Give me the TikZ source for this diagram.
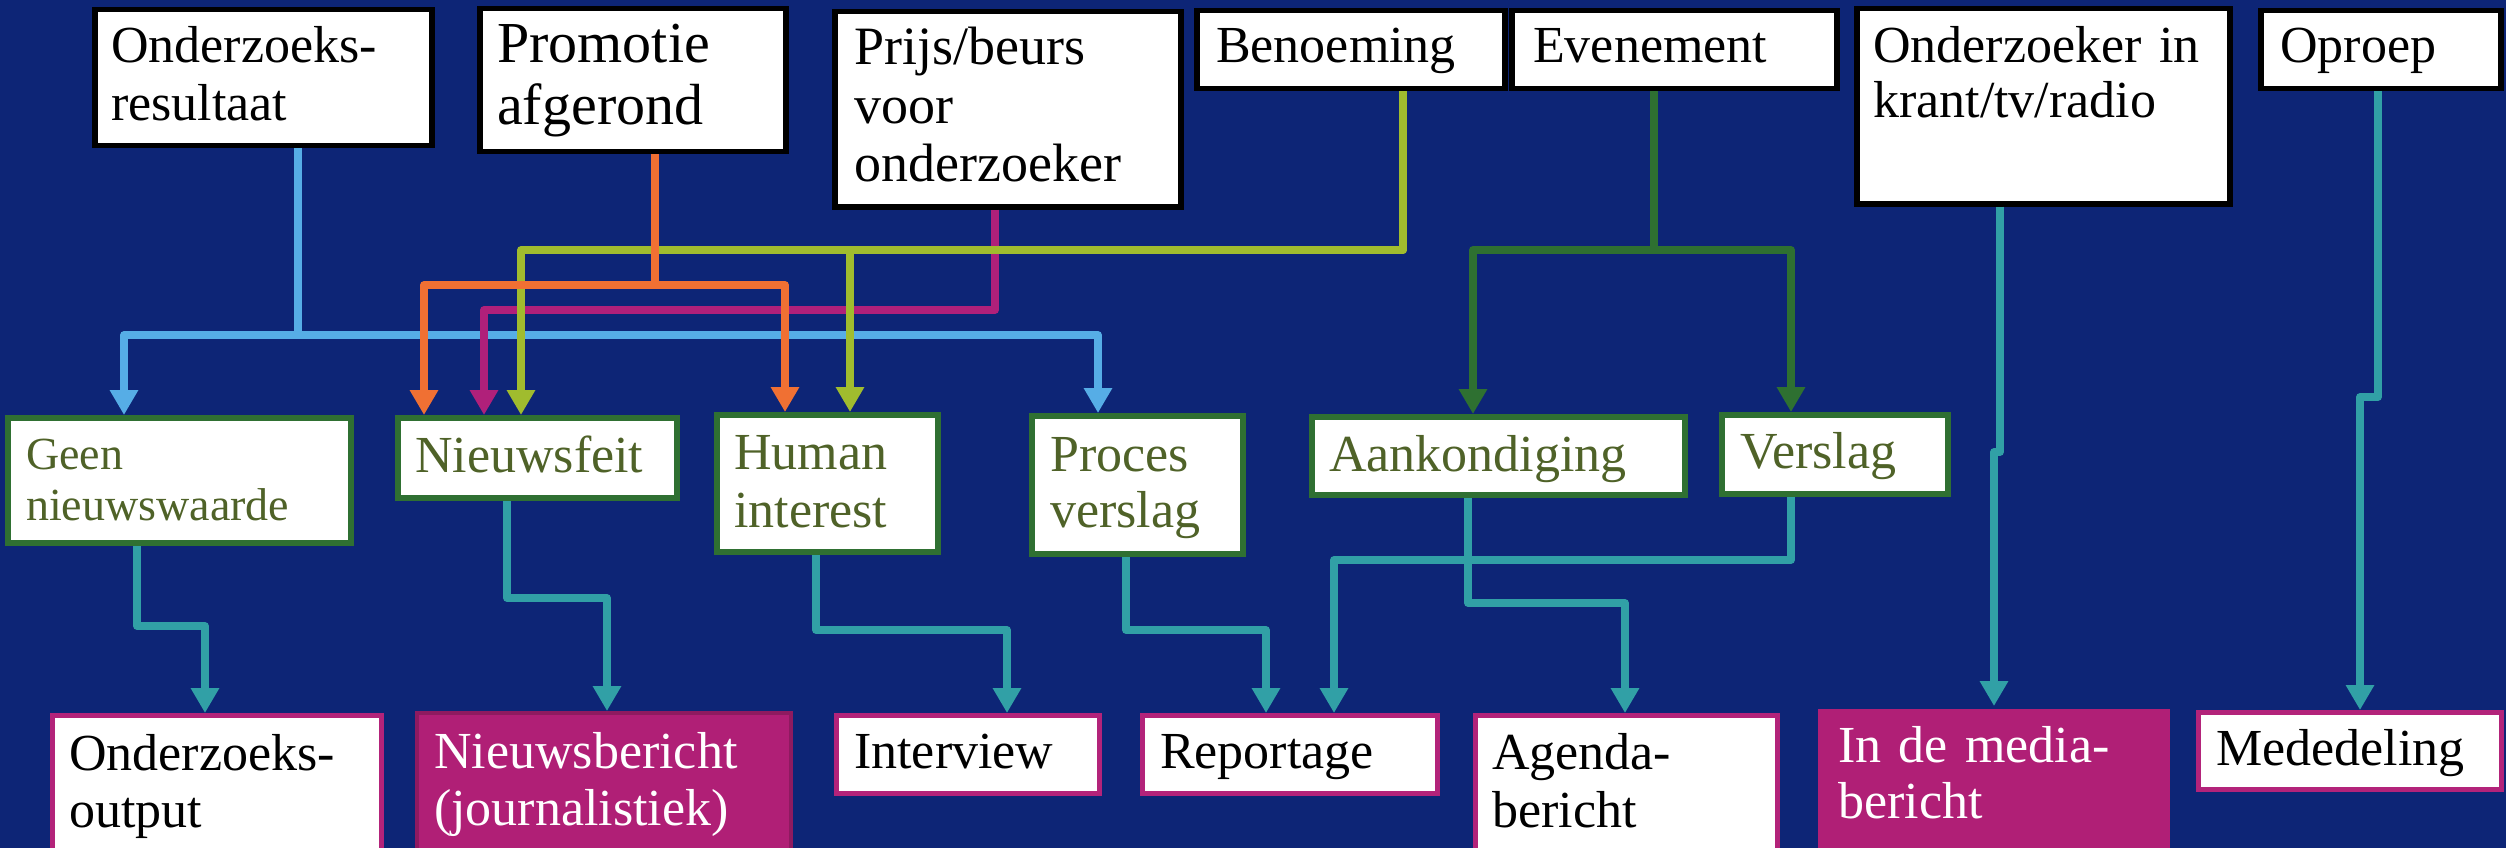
\documentclass[tikz,border=0pt]{standalone}
\usepackage{fontspec}
\setmainfont{Liberation Serif}
\usetikzlibrary{arrows.meta}
\definecolor{bg}{HTML}{0D2576}
\definecolor{mgreen}{HTML}{2F7032}
\definecolor{olive}{HTML}{4F6228}
\definecolor{bmag}{HTML}{B3237A}
\definecolor{fmag}{HTML}{B01F76}
\definecolor{fmagdark}{HTML}{8E1A60}
\definecolor{cblue}{HTML}{56ADE6}
\definecolor{corange}{HTML}{F07033}
\definecolor{clime}{HTML}{A0BC2E}
\definecolor{cmag}{HTML}{B0207A}
\definecolor{cdgreen}{HTML}{2E7031}
\definecolor{cteal}{HTML}{31A0A6}
\begin{document}
\begin{tikzpicture}[x=1pt,y=-1pt,
  box/.style={anchor=north west, inner sep=0pt, fill=white, line width=5pt},
  topbox/.style={box, draw=black, line width=5.5pt},
  midbox/.style={box, draw=mgreen, line width=6pt},
  botbox/.style={box, draw=bmag},
  fillbox/.style={box, fill=fmag, draw=fmagdark, line width=4pt},
  txt/.style={anchor=base west, inner sep=0pt, text width=500pt, align=left, font=\fontsize{52}{58}\selectfont},
  conn/.style={line width=7.5pt, line join=round},
  arr/.style={conn, -{Triangle[width=27pt,length=25pt]}}
]
\fill[bg] (0,0) rectangle (2506,848);
\path[use as bounding box] (0,0) rectangle (2506,848);
\clip (0,0) rectangle (2506,848);

% top row
\node[topbox, minimum width=337pt, minimum height=136pt] (t1) at (92,7) {};
\node[txt] (t1t) at (111,63) {Onderzoeks-\\resultaat};
\node[topbox, minimum width=306pt, minimum height=143pt] (t2) at (477,6) {};
\node[txt, font=\fontsize{58}{62}\selectfont] (t2t) at (497,63) {Promotie\\afgerond};
\node[topbox, minimum width=346pt, minimum height=195pt] (t3) at (832,9) {};
\node[txt, font=\fontsize{54}{58.5}\selectfont] (t3t) at (854,65) {Prijs/beurs\\voor\\onderzoeker};
\node[topbox, minimum width=308pt, minimum height=78pt] (t4) at (1194,8) {};
\node[txt] (t4t) at (1216,63) {Benoeming};
\node[topbox, minimum width=325pt, minimum height=78pt] (t5) at (1509,8) {};
\node[txt] (t5t) at (1533,63) {Evenement};
\node[topbox, minimum width=373pt, minimum height=195pt] (t6) at (1854,6) {};
\node[txt, font=\fontsize{52}{55}\selectfont] (t6t) at (1873,63) {Onderzoeker in\\krant/tv/radio};
\node[topbox, minimum width=240pt, minimum height=78pt] (t7) at (2258,8) {};
\node[txt] (t7t) at (2280,63) {Oproep};

% middle row
\node[midbox, minimum width=343pt, minimum height=125pt] (m1) at (5,415) {};
\node[txt, text=olive, font=\fontsize{46}{51}\selectfont] (m1t) at (26,469) {Geen\\nieuwswaarde};
\node[midbox, minimum width=279pt, minimum height=80pt] (m2) at (395,415) {};
\node[txt, text=olive] (m2t) at (415,472) {Nieuwsfeit};
\node[midbox, minimum width=221pt, minimum height=137pt] (m3) at (714,412) {};
\node[txt, text=olive] (m3t) at (734,469) {Human\\interest};
\node[midbox, minimum width=211pt, minimum height=138pt] (m4) at (1029,413) {};
\node[txt, text=olive, font=\fontsize{52}{56}\selectfont] (m4t) at (1050,471) {Proces\\verslag};
\node[midbox, minimum width=373pt, minimum height=78pt] (m5) at (1309,414) {};
\node[txt, text=olive] (m5t) at (1329,471) {Aankondiging};
\node[midbox, minimum width=226pt, minimum height=79pt] (m6) at (1719,412) {};
\node[txt, text=olive] (m6t) at (1740,468) {Verslag};

% bottom row
\node[botbox, minimum width=329pt, minimum height=157pt] (b1) at (50,713) {};
\node[txt, font=\fontsize{52}{57}\selectfont] (b1t) at (69,770) {Onderzoeks-\\output};
\node[fillbox, minimum width=374pt, minimum height=159pt] (b2) at (415,711) {};
\node[txt, text=white, font=\fontsize{52}{57}\selectfont] (b2t) at (434,768) {Nieuwsbericht\\(journalistiek)};
\node[botbox, minimum width=263pt, minimum height=78pt] (b3) at (834,713) {};
\node[txt] (b3t) at (854,768) {Interview};
\node[botbox, minimum width=295pt, minimum height=78pt] (b4) at (1140,713) {};
\node[txt] (b4t) at (1160,768) {Reportage};
\node[botbox, minimum width=302pt, minimum height=157pt] (b5) at (1473,713) {};
\node[txt, font=\fontsize{52}{58}\selectfont] (b5t) at (1492,769) {Agenda-\\bericht};
\node[box, fill=fmag, minimum width=352pt, minimum height=164pt] (b6) at (1815,706) {};
\node[txt, text=white, font=\fontsize{52}{56}\selectfont] (b6t) at (1838,762) {In de media-\\bericht};
\node[botbox, minimum width=303pt, minimum height=77pt] (b7) at (2196,710) {};
\node[txt] (b7t) at (2216,765) {Mededeling};

% connectors top -> middle
\draw[arr,cblue] ([xshift=206pt]t1.south west) -- (298,335) -| ([xshift=119pt]m1.north west);
\draw[arr,cblue] ([xshift=206pt]t1.south west) -- (298,335) -| ([xshift=69pt]m4.north west);
\draw[arr,cmag] ([xshift=163pt]t3.south west) -- (995,310) -| ([xshift=89pt]m2.north west);
\draw[arr,clime] ([xshift=209pt]t4.south west) -- (1403,250) -| ([xshift=126pt]m2.north west);
\draw[arr,clime] ([xshift=209pt]t4.south west) -- (1403,250) -| ([xshift=136pt]m3.north west);
\draw[arr,corange] ([xshift=178pt]t2.south west) -- (655,285) -| ([xshift=29pt]m2.north west);
\draw[arr,corange] ([xshift=178pt]t2.south west) -- (655,285) -| ([xshift=71pt]m3.north west);
\draw[arr,cdgreen] ([xshift=145pt]t5.south west) -- (1654,250) -| ([xshift=164pt]m5.north west);
\draw[arr,cdgreen] ([xshift=145pt]t5.south west) -- (1654,250) -| ([xshift=72pt]m6.north west);

% connectors middle -> bottom
\draw[arr,cteal] ([xshift=132pt]m1.south west) -- (137,626) -| ([xshift=155pt]b1.north west);
\draw[arr,cteal] ([xshift=112pt]m2.south west) -- (507,598) -| ([xshift=192pt]b2.north west);
\draw[arr,cteal] ([xshift=102pt]m3.south west) -- (816,630) -| ([xshift=173pt]b3.north west);
\draw[arr,cteal] ([xshift=97pt]m4.south west) -- (1126,630) -| ([xshift=126pt]b4.north west);
\draw[arr,cteal] ([xshift=159pt]m5.south west) -- (1468,603) -| ([xshift=152pt]b5.north west);
\draw[arr,cteal] ([xshift=72pt]m6.south west) -- (1791,560) -| ([xshift=194pt]b4.north west);
\draw[arr,cteal] ([xshift=146pt]t6.south west) -- (2000,452) -| ([xshift=179pt]b6.north west);
\draw[arr,cteal] ([xshift=120pt]t7.south west) -- (2378,397) -| ([xshift=164pt]b7.north west);
\end{tikzpicture}
\end{document}
